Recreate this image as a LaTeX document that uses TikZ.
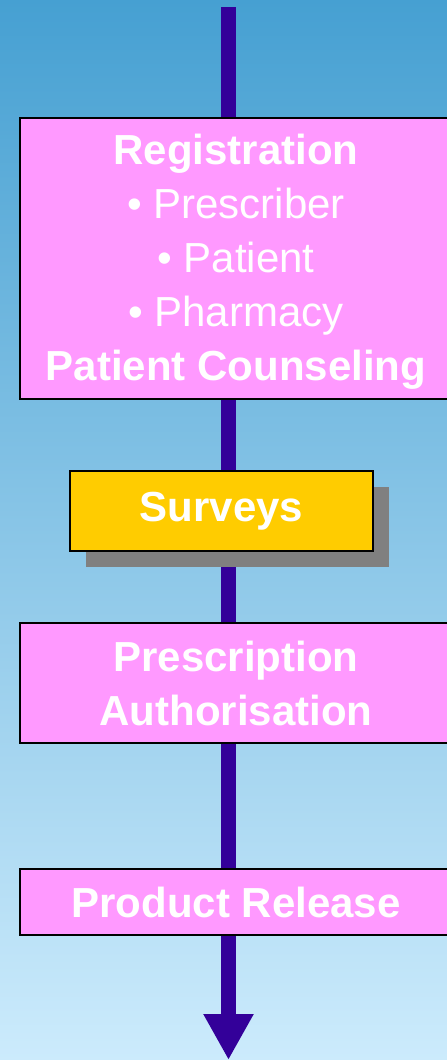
\documentclass[tikz,border=0pt]{standalone}
\usepackage{fontspec}
\setmainfont{Liberation Sans}
\usetikzlibrary{arrows.meta,shadows}
\definecolor{bgtop}{RGB}{70,160,210}
\definecolor{bgbot}{RGB}{204,235,252}
\definecolor{shaftcol}{HTML}{330099}
\definecolor{pinkfill}{HTML}{FF99FF}
\definecolor{yellowfill}{HTML}{FFCC00}
\definecolor{shadowgray}{HTML}{808080}
\tikzset{
  stage/.style={draw=black, line width=1.3pt, fill=pinkfill, text=white, inner sep=0pt,
    align=center, font=\fontsize{42}{54}\selectfont, minimum width=432pt},
  survbox/.style={draw=black, line width=1.3pt, fill=yellowfill, text=white, inner sep=0pt,
    align=center, font=\fontsize{42}{54}\selectfont\bfseries, minimum width=303pt, minimum height=80pt,
    drop shadow={shadow xshift=16pt, shadow yshift=-16pt, fill=shadowgray, opacity=1}},
  shaft/.style={draw=shaftcol, line width=15pt, line cap=butt,
    -{Triangle[width=47pt,length=46pt]}}
}
\begin{document}
\begin{tikzpicture}[x=1pt,y=-1pt]
\shade[top color=bgtop, bottom color=bgbot] (0,0) rectangle (447,1060);
\useasboundingbox (0,0) rectangle (447,1060);
\coordinate (top) at (228.5,7);
\coordinate (bot) at (228.5,1060);
\draw[shaft] (top) -- (bot);
\node[stage, minimum height=281pt, text depth=2pt] (reg) at (236,258.5)
  {\textbf{Registration}\\ \textbullet\ Prescriber\\ \textbullet\ Patient\\ \textbullet\ Pharmacy\\ \textbf{Patient Counseling}};
\node[survbox] (surv) at (221.5,511) {Surveys};
\node[stage, minimum height=120pt, font=\fontsize{42}{54}\selectfont\bfseries] (presc) at (236,683)
  {Prescription\\ Authorisation};
\node[stage, minimum height=66pt, font=\fontsize{42}{54}\selectfont\bfseries] (prod) at (236,902)
  {Product Release};
\end{tikzpicture}
\end{document}
